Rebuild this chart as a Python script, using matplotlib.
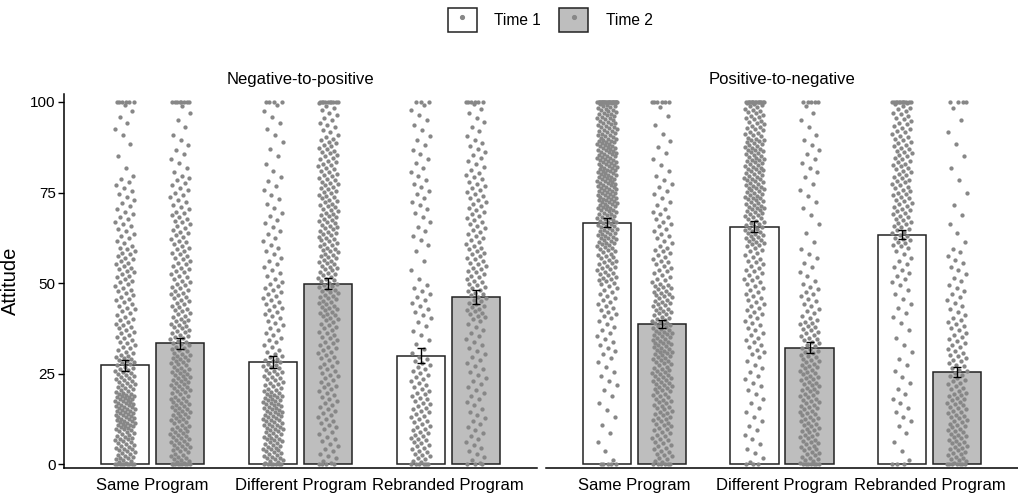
import numpy as np
import matplotlib
matplotlib.use("Agg")
import matplotlib.pyplot as plt
from matplotlib.patches import Patch
from matplotlib.lines import Line2D
from matplotlib.legend_handler import HandlerTuple

plt.rcParams['font.family'] = ['Liberation Sans', 'DejaVu Sans']

# ---------------- data ----------------
panels = ['Negative-to-positive', 'Positive-to-negative']
programs = ['Same Program', 'Different Program', 'Rebranded Program']
times = ['Time 1', 'Time 2']
yticks = [0, 25, 50, 75, 100]

# bar heights (mean attitude) and standard errors
neg_pos_t1_mean = [27.4, 28.3, 30.0]
neg_pos_t2_mean = [33.4, 49.9, 46.2]
pos_neg_t1_mean = [66.7, 65.6, 63.4]
pos_neg_t2_mean = [38.7, 32.2, 25.5]
neg_pos_t1_se = [1.5, 1.6, 2.0]
neg_pos_t2_se = [1.5, 1.5, 1.9]
pos_neg_t1_se = [1.2, 1.6, 1.2]
pos_neg_t2_se = [1.2, 1.6, 1.4]

# individual responses, read as counts: [at 0, 0-10, 10-20, ..., 90-100, at 100]
neg_pos_t1_counts = [
    [8, 40, 55, 35, 22, 20, 22, 15, 12, 3, 6, 6],
    [6, 40, 45, 30, 15, 18, 12, 10, 8, 5, 6, 4],
    [5, 25, 22, 18, 8, 12, 4, 8, 10, 8, 7, 3],
]
neg_pos_t2_counts = [
    [8, 35, 35, 35, 30, 25, 22, 20, 15, 8, 5, 8],
    [4, 15, 18, 20, 22, 30, 30, 30, 28, 25, 15, 10],
    [3, 12, 12, 12, 12, 25, 22, 18, 18, 12, 8, 6],
]
pos_neg_t1_counts = [
    [5, 4, 5, 8, 12, 18, 30, 45, 55, 55, 45, 25],
    [3, 8, 8, 10, 15, 18, 20, 35, 40, 40, 30, 15],
    [3, 4, 8, 6, 5, 8, 12, 25, 25, 25, 22, 12],
]
pos_neg_t2_counts = [
    [5, 25, 30, 35, 40, 32, 20, 15, 10, 6, 4, 6],
    [6, 30, 30, 30, 25, 15, 8, 4, 6, 8, 5, 5],
    [6, 30, 28, 22, 18, 12, 10, 4, 3, 3, 3, 4],
]

panel_means = [[neg_pos_t1_mean, neg_pos_t2_mean], [pos_neg_t1_mean, pos_neg_t2_mean]]
panel_se = [[neg_pos_t1_se, neg_pos_t2_se], [pos_neg_t1_se, pos_neg_t2_se]]
panel_counts = [[neg_pos_t1_counts, neg_pos_t2_counts], [pos_neg_t1_counts, pos_neg_t2_counts]]

# ---------------- style ----------------
fills = ['white', '#bebebe']
edge = '#222222'
dot_color = '#878787'
bar_w = 0.327
offsets = [-0.187, 0.187]
jit = 0.068
GOLD = 0.6180339887


def expand_counts(counts):
    ys = [0.0] * counts[0]
    for i, n in enumerate(counts[1:11]):
        ys += [10 * i + 10 * (k + 0.5) / n for k in range(n)]
    ys += [100.0] * counts[11]
    return np.array(ys)


W, H = 1018, 496
fig = plt.figure(figsize=(W / 100, H / 100), dpi=100)
ax_bottom = 28 / H
ax_height = 374 / H
axes = [fig.add_axes([64 / W, ax_bottom, 473 / W, ax_height]),
        fig.add_axes([546 / W, ax_bottom, 472 / W, ax_height])]

x = np.arange(1, len(programs) + 1)
seed = 0
for p, ax in enumerate(axes):
    for t in range(2):
        xs = x + offsets[t]
        ax.bar(xs, panel_means[p][t], width=bar_w, color=fills[t],
               edgecolor=edge, linewidth=1.1, zorder=1)
        for g in range(len(programs)):
            ys = expand_counts(panel_counts[p][t][g])
            n = len(ys)
            frac = ((np.arange(n) + seed) * GOLD) % 1.0
            seed += n
            ax.scatter(xs[g] + (frac * 2 - 1) * jit, ys, s=9.5, color=dot_color,
                       linewidths=0, zorder=2)
        ax.errorbar(xs, panel_means[p][t], yerr=panel_se[p][t], fmt='none',
                    ecolor='black', elinewidth=1.0, capsize=3.2, capthick=1.0, zorder=3)
    ax.set_xlim(0.4, 3.6)
    ax.set_ylim(-1.0, 102.2)
    ax.set_xticks(x)
    ax.set_xticklabels(programs, fontsize=12)
    ax.tick_params(axis='x', length=0, pad=7)
    ax.set_title(panels[p], fontsize=12, pad=7)
    for s in ['top', 'right']:
        ax.spines[s].set_visible(False)
    ax.spines['bottom'].set_linewidth(1.1)
    ax.spines['left'].set_linewidth(1.1)
    ax.set_facecolor('none')

axes[0].set_yticks(yticks)
axes[0].set_yticklabels([str(v) for v in yticks], fontsize=11)
axes[0].tick_params(axis='y', length=4, width=1.0, pad=2)
axes[0].set_ylabel('Attitude', fontsize=14.5, labelpad=7)
axes[1].spines['left'].set_visible(False)
axes[1].set_yticks([])

handles = [(Patch(facecolor=fills[t], edgecolor=edge, linewidth=1.1),
            Line2D([], [], marker='o', color=dot_color, ls='', markersize=2.7))
           for t in range(2)]
fig.legend(handles, times, handler_map={tuple: HandlerTuple(ndivide=1, pad=0)},
           loc='center', bbox_to_anchor=(550 / W, 1 - 20 / H), ncol=2, frameon=False,
           fontsize=11.2, handlelength=1.9, handleheight=1.9, handletextpad=1.1,
           columnspacing=1.15, borderpad=0)

fig.savefig('out.png', dpi=100)
